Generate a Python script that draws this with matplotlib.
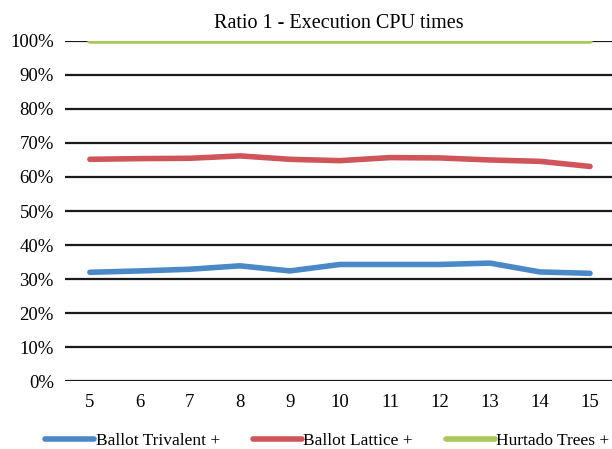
import matplotlib.pyplot as plt
from matplotlib.ticker import PercentFormatter

plt.rcParams['font.family'] = ['Liberation Serif', 'DejaVu Serif']

sizes = [5, 6, 7, 8, 9, 10, 11, 12, 13, 14, 15]
trivalent = [32.0, 32.4, 32.9, 33.9, 32.4, 34.3, 34.3, 34.3, 34.7, 32.1, 31.7]
lattice = [65.2, 65.4, 65.5, 66.2, 65.2, 64.8, 65.7, 65.6, 65.0, 64.6, 63.1]
hurtado = [100, 100, 100, 100, 100, 100, 100, 100, 100, 100, 100]

fig = plt.figure(figsize=(6.12, 4.49), dpi=100)
ax = fig.add_axes([0.106, 0.151, 0.894, 0.758])

# horizontal grid lines
for y in range(0, 101, 10):
    ax.axhline(y, color="#1a1a1a", lw=1.6, zorder=1)

ax.plot(sizes, trivalent, color="#4A88C7", lw=4, solid_capstyle="round", label="Ballot Trivalent +", zorder=3)
ax.plot(sizes, lattice, color="#D0555A", lw=4, solid_capstyle="round", label="Ballot Lattice +", zorder=3)
ax.plot(sizes, hurtado, color="#A9C85A", lw=4, solid_capstyle="round", label="Hurtado Trees +", zorder=3)

ax.set_xlim(4.5, 15.44)
ax.set_ylim(0, 100)
ax.set_yticks(range(0, 101, 10))
ax.yaxis.set_major_formatter(PercentFormatter(decimals=0))
ax.set_xticks(sizes)
ax.tick_params(length=0, labelsize=13.5, pad=8)
ax.tick_params(axis="x", pad=9)
for s in ax.spines.values():
    s.set_visible(False)

ax.set_title("Ratio 1 - Execution CPU times", fontsize=14.5, pad=9)

fig.legend(loc="lower center", ncol=3, frameon=False, fontsize=12.5,
           handlelength=2.8, handletextpad=0.1, columnspacing=1.9,
           bbox_to_anchor=(0.535, -0.035))

fig.savefig("out.png", dpi=100)
